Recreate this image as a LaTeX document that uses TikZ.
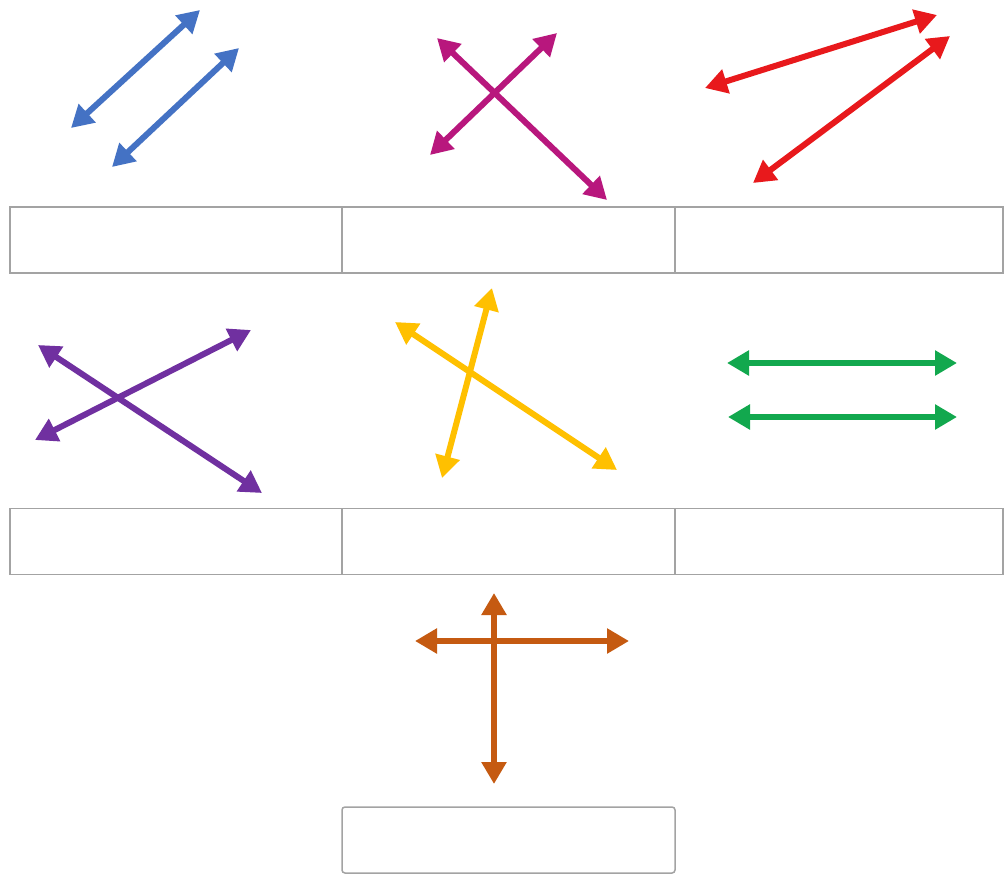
\documentclass[tikz,border=0pt]{standalone}
\usetikzlibrary{arrows.meta}
\definecolor{cblue}{HTML}{4472C4}
\definecolor{cmag}{HTML}{B8177D}
\definecolor{cred}{HTML}{E8191C}
\definecolor{cpur}{HTML}{7030A0}
\definecolor{cyel}{HTML}{FFC000}
\definecolor{cgrn}{HTML}{12A84E}
\definecolor{corg}{HTML}{C55A11}
\definecolor{cgray}{HTML}{A3A3A3}
\tikzset{
  dbl/.style={line width=6pt,{Triangle[length=22pt,width=24pt]}-{Triangle[length=22pt,width=24pt]}},
  cell/.style={draw=cgray,line width=1.5pt,rectangle,inner sep=0pt,minimum height=66pt,fill=white},
}
\begin{document}
\begin{tikzpicture}[x=1pt,y=-1pt]
\useasboundingbox (0,0) rectangle (1006,875);
\fill[white] (0,0) rectangle (1006,875);
% boxes
\node[cell,minimum width=332pt] (b11) at (176,240) {};
\node[cell,minimum width=333pt] (b12) at (508.5,240) {};
\node[cell,minimum width=328pt] (b13) at (839,240) {};
\node[cell,minimum width=332pt] (b21) at (176,541.5) {};
\node[cell,minimum width=333pt] (b22) at (508.5,541.5) {};
\node[cell,minimum width=328pt] (b23) at (839,541.5) {};
\node[cell,minimum width=333pt,rounded corners=3pt] (b3) at (508.5,840) {};
% blue
\coordinate (bl1a) at (71,128); \coordinate (bl1b) at (200,10);
\coordinate (bl2a) at (112,167); \coordinate (bl2b) at (239,48);
\draw[dbl,cblue] (bl1a) -- (bl1b);
\draw[dbl,cblue] (bl2a) -- (bl2b);
% magenta
\coordinate (m1a) at (437,38); \coordinate (m1b) at (607,200);
\coordinate (m2a) at (430,155); \coordinate (m2b) at (557,33);
\draw[dbl,cmag] (m1a) -- (m1b);
\draw[dbl,cmag] (m2a) -- (m2b);
% red
\coordinate (r1a) at (705,88); \coordinate (r1b) at (937,15);
\coordinate (r2a) at (753,183); \coordinate (r2b) at (950,36);
\draw[dbl,cred] (r1a) -- (r1b);
\draw[dbl,cred] (r2a) -- (r2b);
% purple
\coordinate (p1a) at (38,345); \coordinate (p1b) at (262,493);
\coordinate (p2a) at (35,440); \coordinate (p2b) at (251,330);
\draw[dbl,cpur] (p1a) -- (p1b);
\draw[dbl,cpur] (p2a) -- (p2b);
% yellow
\coordinate (y1a) at (395,322); \coordinate (y1b) at (617,470);
\coordinate (y2a) at (442,478); \coordinate (y2b) at (492,288);
\draw[dbl,cyel] (y1a) -- (y1b);
\draw[dbl,cyel] (y2a) -- (y2b);
% green
\coordinate (g1a) at (727,363); \coordinate (g1b) at (957,363);
\coordinate (g2a) at (728,417); \coordinate (g2b) at (957,417);
\draw[dbl,cgrn] (g1a) -- (g1b);
\draw[dbl,cgrn] (g2a) -- (g2b);
% orange
\coordinate (o1a) at (415,641); \coordinate (o1b) at (629,641);
\coordinate (o2a) at (494,593); \coordinate (o2b) at (494,784);
\draw[dbl,corg] (o1a) -- (o1b);
\draw[dbl,corg] (o2a) -- (o2b);
\end{tikzpicture}
\end{document}
